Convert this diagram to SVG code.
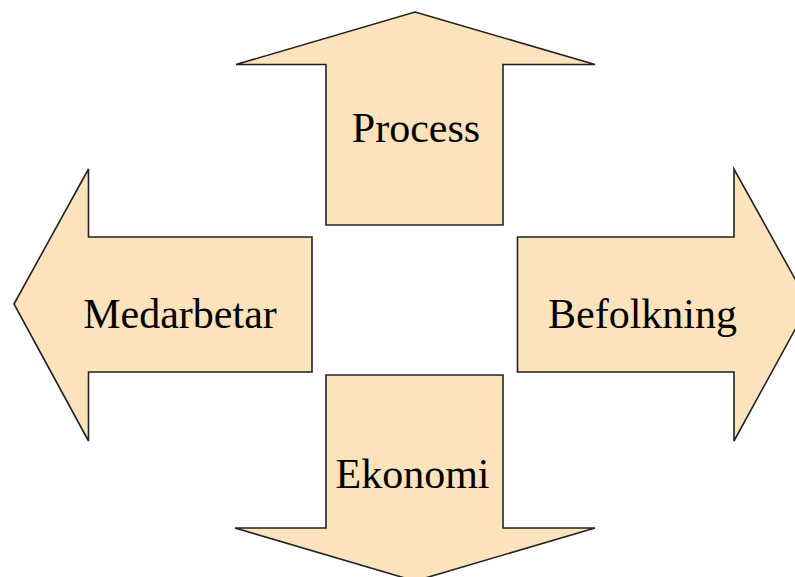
<svg xmlns="http://www.w3.org/2000/svg" width="795" height="577" viewBox="0 0 795 577">
  <style>
    .arrow { fill: #FCE3BB; stroke: #222222; stroke-width: 1.6; stroke-linejoin: miter; }
    .label { font-family: "Liberation Serif", "Times New Roman", serif; font-size: 42px; fill: #000000; text-anchor: middle; }
  </style>
  <rect width="795" height="577" fill="#ffffff"/>
  <g id="process">
    <polygon class="arrow" points="415,12 595,64.5 503,64.5 503,225 326,225 326,64.5 236,64.5"/>
    <text class="label" x="416" y="142">Process</text>
  </g>
  <g id="medarbetar">
    <polygon class="arrow" points="14,304 88.5,169 88.5,237 312,237 312,372 88.5,372 88.5,441"/>
    <text class="label" x="180" y="328">Medarbetar</text>
  </g>
  <g id="befolkning">
    <polygon class="arrow" points="809,304 734,169 734,237 517.5,237 517.5,372 734,372 734,441"/>
    <text class="label" x="642.5" y="328">Befolkning</text>
  </g>
  <g id="ekonomi">
    <polygon class="arrow" points="415,581 595,528 503,528 503,375 326,375 326,528 235,528"/>
    <text class="label" x="412.5" y="488">Ekonomi</text>
  </g>
  <g id="connectors"/>
</svg>
